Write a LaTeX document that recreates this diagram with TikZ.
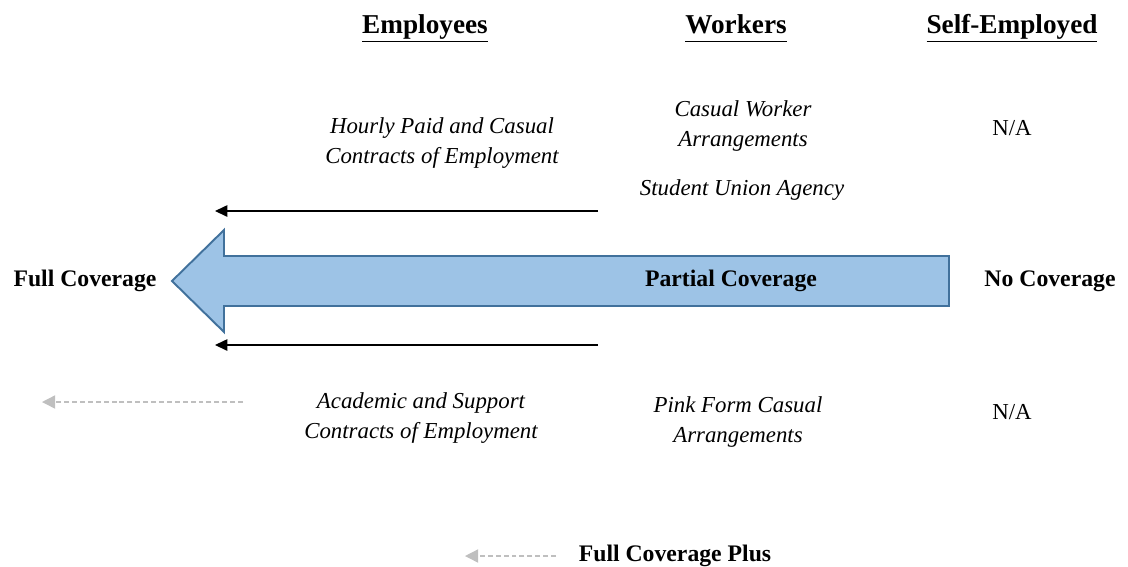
\documentclass[tikz,border=0pt]{standalone}
\usepackage{fontspec}
\setmainfont{Liberation Serif}
\usetikzlibrary{arrows.meta,positioning}

\definecolor{bandfill}{HTML}{9DC3E6}
\definecolor{bandline}{HTML}{41719C}
\definecolor{plusgray}{HTML}{BFBFBF}

\newcommand{\colhead}[1]{\underline{#1\vphantom{py}}}

\begin{document}
\begin{tikzpicture}[
    x=0.02cm, y=-0.02cm,
    every node/.style={font=\fontsize{13}{17}\selectfont, align=center, inner sep=0pt},
    header/.style={font=\fontsize{15.5}{18}\selectfont\bfseries, anchor=base},
    level/.style={font=\fontsize{13.5}{17}\selectfont\bfseries},
    scheme/.style={font=\fontsize{13}{17}\selectfont\itshape},
    thinarrow/.style={-{Triangle[length=7pt,width=6.5pt]}, line width=0.7pt},
    plusarrow/.style={-{Triangle[length=7.5pt,width=7.5pt]}, line width=0.8pt, plusgray, dash pattern=on 2.8pt off 1.7pt},
    band/.style={draw=bandline, fill=bandfill, line width=1.1pt, line join=miter}
]
\useasboundingbox (0,0) rectangle (1128,566);

% Column headers
\node[header] (employees) at (425,33) {\colhead{Employees}};
\node[header] (workers) at (736,33) {\colhead{Workers}};
\node[header] (selfemp) at (1012,33) {\colhead{Self-Employed}};

% Big coverage arrow
\draw[band] (949,256) -- (224,256) -- (224,230) -- (172,281) -- (224,332)
    -- (224,306) -- (949,306) -- cycle;

% Coverage levels
\node[level] (full) at (85,281) {Full Coverage};
\node[level] (partial) at (731,281) {Partial Coverage};
\node[level] (none) at (1050,281) {No Coverage};

% Schemes
\node[scheme] (hourly) at (442,143) {Hourly Paid and Casual\\Contracts of Employment};
\node[scheme] (casual) at (743,126) {Casual Worker\\Arrangements};
\node[scheme] (union) at (742,190) {Student Union Agency};
\node (na1) at (1012,128) {N/A};
\node[scheme] (academic) at (421,418) {Academic and Support\\Contracts of Employment};
\node[scheme] (pink) at (738,422) {Pink Form Casual\\Arrangements};
\node (na2) at (1012,412) {N/A};
\node[level] (plus) at (675,556) {Full Coverage Plus};

% Arrow ends
\coordinate (upstart) at (598,211);
\coordinate (upend) at (215,211);
\coordinate (lowstart) at (598,345);
\coordinate (lowend) at (215,345);
\coordinate (acadstart) at (243,402);
\coordinate (acadend) at (42,402);
\coordinate (plusstart) at (556,556);
\coordinate (plusend) at (465,556);

% Arrows
\draw[thinarrow] (upstart) -- (upend);
\draw[thinarrow] (lowstart) -- (lowend);
\draw[plusarrow] (acadstart) -- (acadend);
\draw[plusarrow] (plusstart) -- (plusend);

\end{tikzpicture}
\end{document}
